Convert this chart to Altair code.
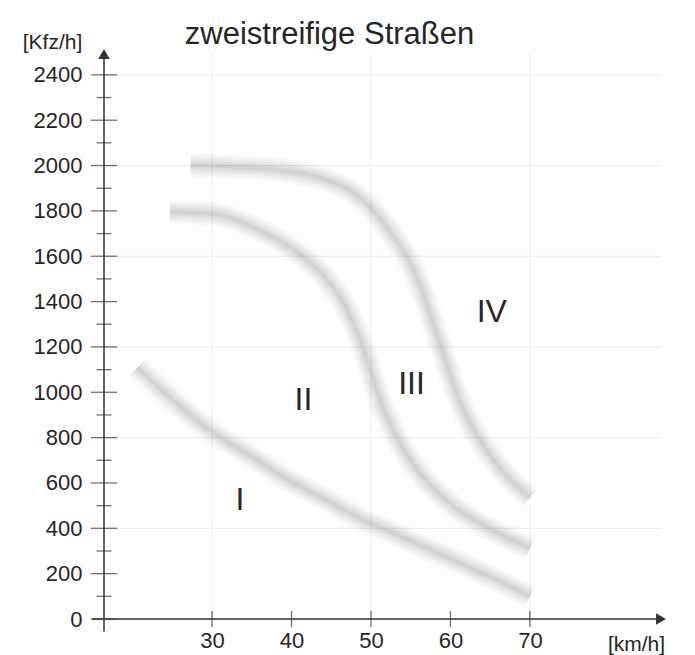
import altair as alt
import pandas as pd

TITLE = "zweistreifige Straßen"
Y_UNIT = "[Kfz/h]"
X_UNIT = "[km/h]"

X_TICKS = [30, 40, 50, 60, 70]
Y_TICKS = list(range(0, 2401, 200))
Y_MINOR = list(range(100, 2400, 200))
X_GRID = [30, 50, 70]
Y_GRID = [400, 800, 1200, 1600, 2000, 2400]

X_DOMAIN = [16.4, 86.5]
Y_DOMAIN = [0, 2492]
X_ORIGIN = 16.4
Y_AXIS_FROM = -55
X_AXIS_FROM = 14.9

# boundary curves (speed km/h, flow Kfz/h)
CURVE_A_X = [20.6, 25.3, 30.0, 34.7, 39.3, 44.0, 48.6, 53.3, 58.0, 62.6, 67.2, 70.0]
CURVE_A_Y = [1110, 958, 826, 723, 620, 532, 444, 371, 297, 224, 150, 100]

CURVE_B_X = [24.7, 30.0, 35.6, 40.7, 44.0, 46.7, 48.6, 50.0, 51.4, 53.3, 56.0, 60.2, 64.9, 70.0]
CURVE_B_Y = [1795, 1787, 1721, 1618, 1516, 1383, 1237, 1090, 943, 796, 650, 503, 400, 312]

CURVE_C_X = [27.3, 37.0, 44.0, 47.7, 50.5, 53.3, 55.1, 56.5, 57.9, 59.3, 60.7, 62.6, 65.3, 70.0]
CURVE_C_Y = [2000, 1985, 1941, 1883, 1794, 1662, 1560, 1442, 1295, 1149, 1002, 855, 708, 535]

ZONE_LABELS = ["I", "II", "III", "IV"]
ZONE_X = [33.5, 41.5, 55.1, 65.2]
ZONE_Y = [525, 965, 1035, 1354]

FONT = "Liberation Sans"
TEXT = "#262626"

curves = pd.concat([
    pd.DataFrame({"v": CURVE_A_X, "q": CURVE_A_Y, "c": "A"}),
    pd.DataFrame({"v": CURVE_B_X, "q": CURVE_B_Y, "c": "B"}),
    pd.DataFrame({"v": CURVE_C_X, "q": CURVE_C_Y, "c": "C"}),
])

xs = alt.Scale(domain=X_DOMAIN, nice=False, zero=False)
ys = alt.Scale(domain=Y_DOMAIN, nice=False, zero=False)

XAXIS = alt.Axis(
    values=X_TICKS, grid=False, ticks=False, tickSize=0, domain=False, format="d",
    labelPadding=11, labelFontSize=22, labelFont=FONT, labelColor=TEXT,
    title=X_UNIT, titleFont=FONT, titleFontSize=21, titleFontWeight="normal",
    titleColor=TEXT, titleX=532, titleY=25, titleAlign="center",
    titleBaseline="middle", labelFlush=False,
)
YAXIS = alt.Axis(
    values=Y_TICKS, grid=False, ticks=False, tickSize=0, domain=False, format="d",
    labelPadding=22, labelFontSize=22, labelFont=FONT, labelColor=TEXT,
    title=Y_UNIT, titleFont=FONT, titleFontSize=21, titleFontWeight="normal",
    titleColor=TEXT, titleAngle=0, titleX=-52, titleY=-12, titleAlign="center",
    titleBaseline="middle", labelFlush=False,
)


def X(field):
    return alt.X(field, type="quantitative", scale=xs, axis=XAXIS)


def Y(field):
    return alt.Y(field, type="quantitative", scale=ys, axis=YAXIS)


base_curve = alt.Chart(curves)
blur_layers = []
for w, op in [(24, 0.045), (19, 0.06), (14, 0.075), (9, 0.09), (4, 0.1)]:
    blur_layers.append(
        base_curve.mark_line(strokeWidth=w, opacity=op, color="#777777", interpolate="monotone")
        .encode(x=X("v"), y=Y("q"), detail="c:N")
    )

ygrid = alt.Chart(pd.DataFrame({"q": Y_GRID})).mark_rule(color="#ebebeb", strokeWidth=1).encode(y=Y("q"))
xgrid = alt.Chart(pd.DataFrame({"v": X_GRID})).mark_rule(color="#ebebeb", strokeWidth=1).encode(x=X("v"))

yaxis_line = alt.Chart(pd.DataFrame({"v": [X_ORIGIN], "q": [Y_AXIS_FROM], "q2": [Y_DOMAIN[1]]})).mark_rule(
    color="#333333", strokeWidth=1.5
).encode(x=X("v"), y=Y("q"), y2="q2:Q")
xaxis_line = alt.Chart(pd.DataFrame({"v": [X_AXIS_FROM], "v2": [X_DOMAIN[1]], "q": [0]})).mark_rule(
    color="#333333", strokeWidth=1.5
).encode(x=X("v"), x2="v2:Q", y=Y("q"))

ymajor = alt.Chart(pd.DataFrame({"v": X_ORIGIN, "q": Y_TICKS})).mark_tick(
    orient="horizontal", size=26, thickness=1.3, color="#333333"
).encode(x=X("v"), y=Y("q"))
yminor = alt.Chart(pd.DataFrame({"v": X_ORIGIN, "q": Y_MINOR})).mark_tick(
    orient="horizontal", size=15, thickness=1.3, color="#333333"
).encode(x=X("v"), y=Y("q"))
xmajor = alt.Chart(pd.DataFrame({"v": X_TICKS, "q": 0})).mark_tick(
    orient="vertical", size=16, thickness=1.3, color="#333333"
).encode(x=X("v"), y=Y("q"))

arrow_up = alt.Chart(pd.DataFrame({"v": [X_ORIGIN], "q": [Y_DOMAIN[1]]})).mark_point(
    shape="triangle-up", filled=True, size=130, color="#333333", opacity=1
).encode(x=X("v"), y=Y("q"))
arrow_right = alt.Chart(pd.DataFrame({"v": [X_DOMAIN[1]], "q": [0]})).mark_point(
    shape="triangle-right", filled=True, size=130, color="#333333", opacity=1
).encode(x=X("v"), y=Y("q"))

zones = alt.Chart(pd.DataFrame({"t": ZONE_LABELS, "v": ZONE_X, "q": ZONE_Y})).mark_text(
    font=FONT, fontSize=32, color=TEXT, align="center", baseline="middle"
).encode(x=X("v"), y=Y("q"), text="t:N")

chart = alt.layer(
    ygrid, xgrid, *blur_layers, yaxis_line, xaxis_line,
    ymajor, yminor, xmajor, arrow_up, arrow_right, zones,
).properties(
    width=557,
    height=565,
    padding={"left": 96, "top": 46, "right": 20, "bottom": 40},
    autosize=alt.AutoSizeParams(type="none"),
    background="white",
    title=alt.TitleParams(
        TITLE, font=FONT, fontSize=31, fontWeight="normal", color=TEXT,
        anchor="middle", dx=-53, dy=20, offset=0,
    ),
).configure_view(stroke=None)

chart.save("out.html", embed_options={"renderer": "svg", "actions": False})
